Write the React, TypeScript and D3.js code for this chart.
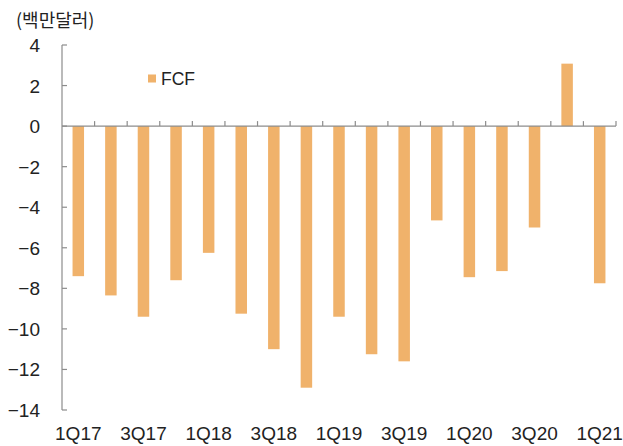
import React from "react";
import * as d3 from "d3";

const categories = ["1Q17","2Q17","3Q17","4Q17","1Q18","2Q18","3Q18","4Q18","1Q19","2Q19","3Q19","4Q19","1Q20","2Q20","3Q20","4Q20","1Q21"];
const fcf = [-7.4,-8.35,-9.4,-7.6,-6.25,-9.25,-11.0,-12.9,-9.4,-11.25,-11.6,-4.65,-7.45,-7.15,-5.0,3.08,-7.75];
const yTicks = [4,2,0,-2,-4,-6,-8,-10,-12,-14];
const seriesName = "FCF";
const unitLabel = "(백만달러)";

const W = 623, H = 446;
const left = 62, right = 616, top = 45, bottom = 410;
const cjk = "'Noto Sans CJK KR', 'Noto Sans', sans-serif";
const latin = "'Liberation Sans', Arial, sans-serif";

export default function App() {
  const x = d3.scaleBand<string>().domain(categories).range([left, right]).paddingInner(0).paddingOuter(0);
  const y = d3.scaleLinear().domain([-14, 4]).range([bottom, top]);
  const bw = 11.5;
  const axisColor = "#8c8c8c";
  return (
    <svg width={W} height={H} style={{ position: "absolute", left: 0, top: 0 }}>
      <rect width={W} height={H} fill="#fff" />
      <text x={16} y={26.5} fontFamily={cjk} fontSize={18} fill="#222">{unitLabel}</text>
      {fcf.map((v, i) => (
        <rect key={i} x={x(categories[i])! + x.bandwidth() / 2 - bw / 2} y={Math.min(y(v), y(0))} width={bw} height={Math.abs(y(v) - y(0))} fill="#F0B26B" />
      ))}
      <line x1={left} x2={left} y1={top} y2={bottom} stroke={axisColor} strokeWidth={1.2} />
      {yTicks.map((t) => (
        <g key={t}>
          <line x1={left} x2={left + 5} y1={y(t)} y2={y(t)} stroke={axisColor} strokeWidth={1.2} />
          <text x={40} y={y(t) + 7} textAnchor="end" fontFamily={latin} fontSize={19} fill="#222">{t < 0 ? "\u2212" + Math.abs(t) : t}</text>
        </g>
      ))}
      <line x1={left} x2={right} y1={y(0)} y2={y(0)} stroke={axisColor} strokeWidth={1.2} />
      {categories.map((c) => (
        <line key={c} x1={x(c)! + x.bandwidth()} x2={x(c)! + x.bandwidth()} y1={y(0)} y2={y(0) - 5} stroke={axisColor} strokeWidth={1.2} />
      ))}
      {categories.map((c, i) => i % 2 === 0 ? (
        <text key={c} x={x(c)! + x.bandwidth() / 2} y={439.5} textAnchor="middle" fontFamily={latin} fontSize={19} fill="#222">{c}</text>
      ) : null)}
      <rect x={148} y={74.5} width={8} height={8} fill="#F0B26B" />
      <text x={161} y={84.5} fontFamily={latin} fontSize={17.5} fill="#222">{seriesName}</text>
    </svg>
  );
}
